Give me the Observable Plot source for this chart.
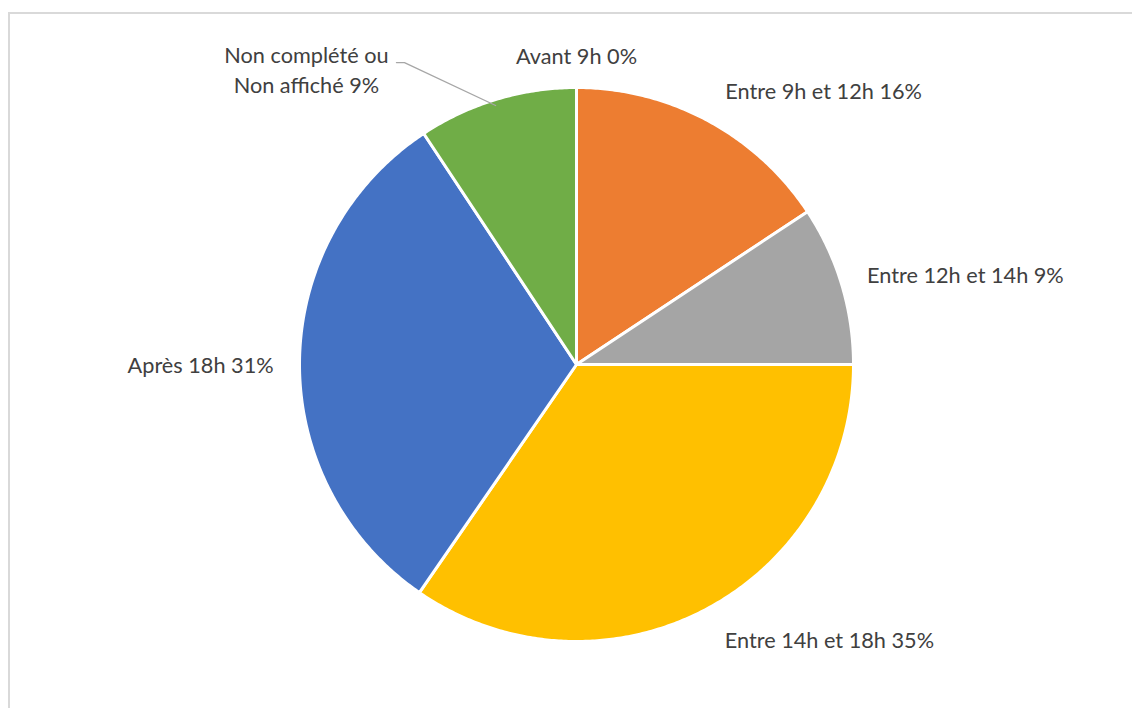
<!DOCTYPE html>
<html>
<head>
<meta charset="utf-8">
<script src="https://cdn.jsdelivr.net/npm/d3@7"></script>
<script src="https://cdn.jsdelivr.net/npm/@observablehq/plot@0.6"></script>
<style>
  html, body { margin: 0; padding: 0; background: #fff; }
  #wrap { position: relative; width: 1132px; height: 708px; overflow: hidden; }
  #frame { position: absolute; left: 8px; top: 12px; width: 1200px; height: 800px;
           border-left: 2px solid #d9d9d9; border-top: 2px solid #d9d9d9; box-sizing: border-box; }
  #chart { position: absolute; left: 0; top: 0; }
</style>
</head>
<body>
<div id="wrap"><div id="frame"></div><div id="chart"></div></div>
<script>
// ---- data ----
const categories = ["Avant 9h", "Entre 9h et 12h", "Entre 12h et 14h", "Entre 14h et 18h", "Après 18h", "Non complété ou\nNon affiché"];
const values = [0, 15.7, 9.3, 34.6, 31.1, 9.3];
const colors = ["#5B9BD5", "#ED7D31", "#A5A5A5", "#FFC000", "#4472C4", "#70AD47"];

// ---- layout (label anchors in pie-radius units) ----
const labelAnchors = [[0, 1.108], [0.892, 0.982], [1.404, 0.318], [0.913, -1.0], [-1.357, -0.007], [-0.975, 1.058]];
const leaderLine = [[-0.650, 1.090], [-0.621, 1.090], [-0.292, 0.935]];

const total = d3.sum(values);
const arcs = d3.pie().sort(null).value(d => d)(values);

const slicePts = [];
arcs.forEach((a, i) => {
  const cat = categories[i];
  slicePts.push({cat, x: 0, y: 0});
  const n = Math.max(2, Math.ceil((a.endAngle - a.startAngle) / (Math.PI / 360)));
  for (let k = 0; k <= n; k++) {
    const t = a.startAngle + (a.endAngle - a.startAngle) * k / n;
    slicePts.push({cat, x: Math.sin(t), y: Math.cos(t)});
  }
  slicePts.push({cat, x: 0, y: 0});
});

const labels = categories.map((c, i) => ({
  text: c + " " + Math.round(values[i] / total * 100) + "%",
  x: labelAnchors[i][0], y: labelAnchors[i][1]
}));
const leader = leaderLine.map(([x, y]) => ({x, y}));

const chart = Plot.plot({
  width: 1132,
  height: 708,
  marginLeft: 299, marginRight: 279, marginTop: 87, marginBottom: 67,
  x: {domain: [-1, 1], axis: null},
  y: {domain: [-1, 1], axis: null},
  color: {domain: categories, range: colors},
  style: {background: "transparent", fontFamily: "Lato, sans-serif"},
  marks: [
    Plot.line(slicePts, {x: "x", y: "y", z: "cat", fill: "cat", stroke: "white", strokeWidth: 3, strokeLinejoin: "round", curve: "linear"}),
    Plot.line(leader, {x: "x", y: "y", stroke: "#a6a6a6", strokeWidth: 1.3}),
    Plot.text(labels, {x: "x", y: "y", text: "text", fill: "#404040", fontSize: 21.7, lineHeight: 1.38, dy: -3, textAnchor: "middle"})
  ]
});
document.getElementById("chart").appendChild(chart);
</script>
</body>
</html>
